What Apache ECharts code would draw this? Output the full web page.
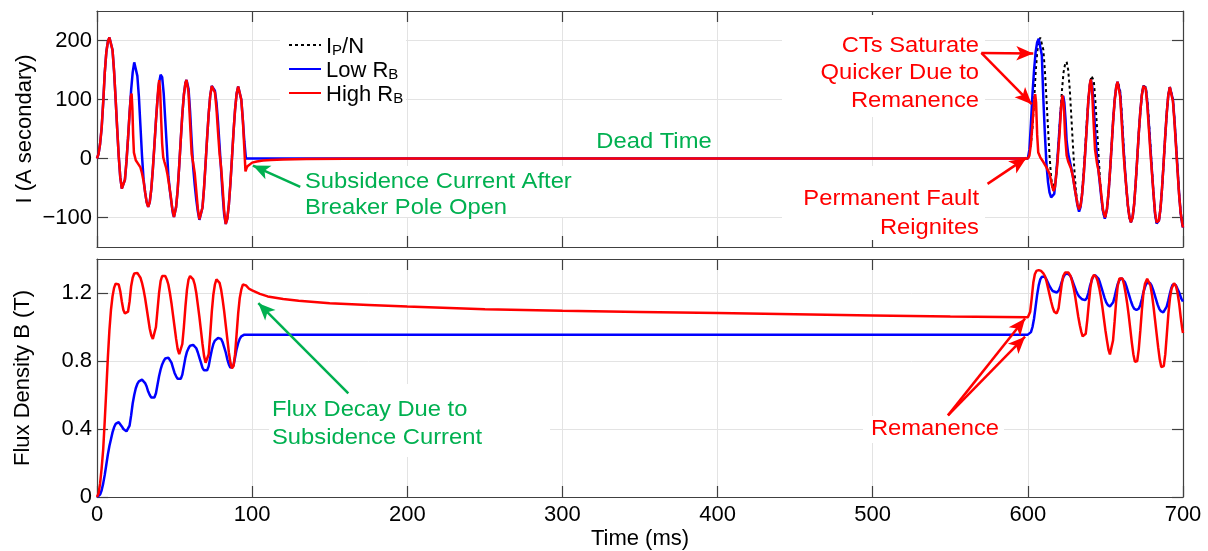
<!DOCTYPE html>
<html><head><meta charset="utf-8">
<script src="https://cdn.jsdelivr.net/npm/echarts@6/dist/echarts.min.js"></script>
<style>html,body{margin:0;padding:0;background:#fff}#c{width:1208px;height:551px}</style>
</head><body><div id="c"></div>
<script>
// ---------- DATA (time ms, value) ----------
const xTicks = [0,100,200,300,400,500,600,700];
const currentTicks = [-100,0,100,200];
const fluxTicks = [0,0.4,0.8,1.2];
const seriesNames = ['IP/N','Low RB','High RB'];

// Secondary current, high burden (red)
const iHighFirst = [[0,0],[1,8],[2,25],[3,52],[4,95],[5,145],[6,180],[7,198],[8,205],[8.5,206],[9,204],[10,184],[11,148],[12,101],[13,51],[14,4],[15,-32],[16,-51],[16.5,-54],[17,-53],[18,-36],[19,-5],[20,34],[21,77],[21.8,105],[22.3,110],[22.8,85],[23.3,40],[23.8,10],[25,-3],[26,-7],[27,-10],[28,-15],[29,-25],[30,-38],[31,-57],[32,-74],[33,-82],[34,-74],[35,-52],[36,-18],[37,22],[38,64],[39,101],[39.5,120],[40.1,133],[40.7,115],[41.3,70],[42,25],[42.7,2],[43.5,-6],[44.5,-15],[45.5,-28],[46.5,-45],[47.5,-63],[48.5,-85],[49.6,-99],[50,-98],[51,-82],[52,-53],[53,-12],[54,32],[55,75],[56,108],[57,128],[57.7,133],[58,132],[59,112],[60,60],[61,8],[62,-8],[63,-25],[64,-55],[65,-85],[66,-103],[66.3,-106],[67,-102],[68,-83],[69,-50],[70,-8],[71,36],[72,76],[73,107],[74,123],[74.5,125],[75,124],[76,112],[77,85],[78,45],[79,8],[80,-15],[81,-50],[82,-90],[83,-111],[84,-102],[85,-78],[86,-42],[87,1],[88,45],[89,83],[90,110],[91,122],[91.2,122],[92,119],[93,100],[94,65],[95,15],[95.7,-22],[96.3,-17],[97,-13],[98,-10],[100,-7],[103,-5],[107,-3.5],[112,-2.5],[120,-1.5],[135,-1],[160,-0.5],[200,-0.2],[300,0],[400,0],[500,0],[600,0]];
const iHighSecond = [[601,5],[602,25],[603,60],[604,95],[604.7,109],[605.3,95],[606,40],[606.7,10],[608,2],[610,-6],[612,-15],[614,-26],[615.5,-45],[616.5,-55],[617.5,-48],[619,-10],[620.5,45],[621.5,90],[622.3,107],[623.2,90],[624,40],[625,5],[626,-5],[627.7,-16],[629,-30],[630.5,-55],[632,-78],[633,-86],[634,-80],[635,-60],[636,-28],[637,12],[638,55],[639,100],[640,127],[640.6,134],[641.3,120],[642.2,70],[643.3,15],[644.5,-7],[645.5,-20],[646.5,-40],[647.5,-65],[648.5,-88],[649.8,-100],[651,-85],[652,-58],[653,-20],[654,22],[655,65],[656,100],[657,122],[657.8,130],[658.5,128],[659.5,105],[660.5,62],[661.5,15],[662.5,-20],[663.5,-50],[664.5,-80],[665.5,-100],[666.4,-108],[667.5,-100],[668.5,-78],[669.5,-42],[670.5,0],[671.5,43],[672.5,80],[673.5,108],[674.5,123],[675,125],[676,118],[677,90],[678,50],[679,10],[680,-25],[681,-60],[682,-92],[683,-108],[683.6,-111],[684.5,-105],[685.5,-85],[686.5,-50],[687.5,-8],[688.5,36],[689.5,76],[690.5,107],[691.5,121],[691.8,122],[692.5,118],[693.5,97],[694.5,62],[695.5,20],[696.5,-22],[697.5,-62],[698.5,-92],[699.5,-110],[700,-117]];

// Secondary current, low burden (blue)
const iLowFirst = [[0,0],[1,8],[2,25],[3,52],[4,95],[5,145],[6,180],[7,198],[8,205],[8.5,206],[9,204],[10,184],[11,148],[12,101],[13,51],[14,4],[15,-32],[16,-51],[16.5,-54],[17,-53],[18,-36],[19,-5],[20,34],[21,77],[22,116],[23,146],[24,163],[24.5,165],[25,162],[26,140],[27,105],[28,55],[29,5],[30,-35],[31,-57],[32,-74],[33,-82],[34,-74],[35,-52],[36,-18],[37,22],[38,64],[39,101],[40,128],[41,142],[41.4,143],[42,138],[43,110],[44,65],[45,20],[46,-30],[47,-55],[48,-75],[49,-94],[49.6,-99],[50,-98],[51,-82],[52,-53],[53,-12],[54,32],[55,75],[56,108],[57,128],[57.7,133],[58,133],[59,118],[60,80],[61,30],[62,-15],[63,-45],[64,-70],[65,-90],[66,-104],[66.3,-106],[67,-102],[68,-83],[69,-50],[70,-8],[71,36],[72,76],[73,107],[74,123],[74.5,125],[75,124],[76,115],[77,95],[78,62],[79,22],[80,-20],[81,-62],[82,-96],[83,-111],[84,-102],[85,-78],[86,-42],[87,1],[88,45],[89,83],[90,110],[91,122],[91.2,122],[92,119],[93,100],[94,66],[95,28],[96,0],[600,0]];
const iLowSecond = [[601,15],[602,60],[603,110],[604,150],[605,180],[606,197],[607,203],[608,203],[609,175],[610,100],[611,40],[612,-10],[613,-40],[614,-58],[615,-66],[615.9,-69],[617,-60],[618,-35],[619,-3],[620,35],[621,75],[622,100],[622.8,106],[623.5,95],[624.3,65],[625,30],[626,8],[627.5,-10],[629,-30],[630.5,-55],[632,-80],[633,-90],[634,-82],[635,-60],[636,-28],[637,12],[638,55],[639,98],[640,125],[640.6,133],[641.5,122],[642.5,85],[643.5,40],[644.5,5],[645.5,-20],[646.5,-45],[647.5,-70],[648.5,-90],[649.6,-102],[651,-86],[652,-58],[653,-20],[654,22],[655,65],[656,100],[657,122],[657.8,130],[658.5,129],[659.5,110],[660.5,70],[661.5,25],[662.5,-15],[663.5,-50],[664.5,-80],[665.5,-100],[666.4,-108],[667.5,-100],[668.5,-78],[669.5,-42],[670.5,0],[671.5,43],[672.5,80],[673.5,108],[674.5,123],[675,125],[676,119],[677,95],[678,58],[679,18],[680,-22],[681,-60],[682,-94],[683,-110],[683.6,-113],[684.5,-105],[685.5,-85],[686.5,-50],[687.5,-8],[688.5,36],[689.5,76],[690.5,107],[691.5,121],[691.8,122],[692.5,119],[693.5,100],[694.5,66],[695.5,24],[696.5,-18],[697.5,-60],[698.5,-92],[699.5,-111],[700,-117]];

// Ideal current IP/N (black dotted), visible in the reclose
const iIdeal = [[600,0],[601,8],[602,25],[603,52],[604,95],[605,145],[606,180],[607,198],[608,205],[608.5,206],[609,204],[610,184],[611,148],[612,101],[613,51],[614,4],[615,-32],[616,-51],[616.5,-54],[617,-53],[618,-36],[619,-5],[620,34],[621,77],[622,116],[623,146],[624,160],[625,164],[626,150],[627,118],[628,72],[629,25],[630,-20],[631,-55],[632,-76],[633,-85],[634,-78],[635,-55],[636,-20],[637,20],[638,62],[639,100],[640,126],[641,140],[641.7,143],[642.5,132],[643.5,98],[644.5,55],[645.5,10],[646.5,-35],[647.5,-70],[648.5,-92],[649.8,-101],[651,-86],[652,-58],[653,-20],[654,22],[655,65],[656,100],[657,122],[658,130],[658.5,131],[659.5,115],[660.5,78],[661.5,32],[662.5,-15],[663.5,-52],[664.5,-82],[665.5,-101],[666.4,-108],[667.5,-100],[668.5,-78],[669.5,-42],[670.5,0],[671.5,43],[672.5,80],[673.5,108],[674.5,123],[675,125],[676,121],[677,100],[678,65],[679,22],[680,-20],[681,-60],[682,-94],[683,-110],[683.6,-113],[684.5,-105],[685.5,-85],[686.5,-50],[687.5,-8],[688.5,36],[689.5,76],[690.5,107],[691.5,121],[691.8,122],[692.5,119],[693.5,100],[694.5,66],[695.5,24],[696.5,-18],[697.5,-60],[698.5,-92],[699.5,-111],[700,-117]];

// Flux density, high burden (red)
const bHighFirst = [[0,0],[1,0.02],[2,0.08],[3,0.17],[4,0.28],[5,0.45],[6,0.63],[7,0.82],[8,0.98],[9,1.10],[10,1.18],[11,1.23],[12,1.255],[13,1.26],[14,1.25],[15,1.21],[16,1.15],[17,1.10],[18,1.08],[19,1.075],[20,1.09],[21,1.15],[22,1.24],[23,1.29],[24,1.315],[25,1.32],[26,1.318],[27,1.31],[28,1.29],[29,1.26],[30,1.22],[31,1.17],[32,1.11],[33,1.05],[34,0.99],[35,0.95],[36,0.93],[37,0.94],[38,1.00],[39,1.10],[40,1.20],[41,1.27],[42,1.30],[43,1.31],[44,1.30],[45,1.28],[46,1.25],[47,1.20],[48,1.14],[49,1.07],[50,1.00],[51,0.93],[52,0.87],[53,0.84],[54,0.845],[55,0.90],[56,1.00],[57,1.12],[58,1.22],[59,1.28],[60,1.30],[61,1.30],[62,1.28],[63,1.25],[64,1.20],[65,1.13],[66,1.06],[67,0.98],[68,0.90],[69,0.83],[70,0.79],[71,0.79],[72,0.84],[73,0.96],[74,1.09],[75,1.19],[76,1.25],[77,1.28],[78,1.28],[79,1.26],[80,1.22],[81,1.16],[82,1.09],[83,1.01],[84,0.93],[85,0.85],[86,0.79],[87,0.757],[88,0.77],[89,0.84],[90,0.96],[91,1.08],[92,1.17],[93,1.22],[94,1.25],[95,1.26],[96,1.245],[97,1.235],[98,1.225],[100,1.215],[105,1.195],[110,1.18],[120,1.165],[130,1.155],[150,1.14],[175,1.13],[200,1.12],[250,1.105],[300,1.095],[350,1.088],[400,1.082],[450,1.075],[500,1.068],[550,1.062],[600,1.057]];
const bHighSecond = [[600.6,1.06],[601.5,1.09],[602.5,1.17],[603.5,1.26],[604.5,1.31],[605.5,1.33],[607,1.335],[608.5,1.33],[610,1.316],[611,1.30],[612,1.27],[613,1.23],[614,1.19],[615,1.15],[616,1.115],[617,1.09],[618.6,1.08],[619.8,1.11],[620.8,1.18],[621.8,1.25],[622.8,1.30],[624,1.32],[625,1.325],[626.2,1.32],[627.5,1.30],[628.5,1.27],[629.5,1.23],[630.5,1.18],[631.5,1.12],[632.5,1.06],[633.5,1.01],[634.5,0.97],[635.3,0.945],[636.3,0.937],[637.3,0.96],[638.3,1.04],[639.3,1.14],[640.3,1.23],[641.3,1.285],[642.6,1.306],[644,1.295],[645,1.27],[646,1.23],[647,1.18],[648,1.12],[649,1.05],[650,0.98],[651,0.92],[652,0.865],[652.9,0.839],[653.9,0.85],[654.9,0.92],[655.9,1.03],[656.9,1.15],[657.9,1.24],[659,1.285],[660,1.295],[661,1.285],[662,1.25],[663,1.20],[664,1.14],[665,1.07],[666,0.99],[667,0.91],[668,0.84],[669,0.795],[669.6,0.786],[670.5,0.80],[671.5,0.87],[672.5,0.98],[673.5,1.10],[674.5,1.20],[675.5,1.255],[676.9,1.283],[678,1.275],[679,1.245],[680,1.19],[681,1.12],[682,1.04],[683,0.96],[684,0.88],[685,0.81],[686,0.765],[686.7,0.756],[687.6,0.77],[688.6,0.84],[689.6,0.96],[690.6,1.08],[691.6,1.17],[692.6,1.225],[694.2,1.257],[695.5,1.24],[696.5,1.20],[697.5,1.14],[698.5,1.06],[699.5,0.99],[700,0.965]];

// Flux density, low burden (blue)
const bLowFirst = [[0,0],[1,0.003],[2,0.015],[3,0.04],[4,0.08],[5,0.13],[6,0.19],[7,0.25],[8,0.30],[9,0.34],[10,0.38],[11,0.41],[12,0.43],[13,0.44],[14,0.44],[15,0.43],[16,0.415],[17,0.40],[18,0.39],[19,0.386],[20,0.39],[21,0.42],[22,0.48],[23,0.55],[24,0.60],[25,0.64],[26,0.665],[27,0.68],[28,0.69],[29,0.69],[30,0.685],[31,0.67],[32,0.65],[33,0.62],[34,0.60],[35,0.585],[36,0.58],[37,0.585],[38,0.61],[39,0.66],[40,0.71],[41,0.75],[42,0.78],[43,0.80],[44,0.815],[45,0.82],[46,0.82],[47,0.81],[48,0.79],[49,0.76],[50,0.73],[51,0.71],[52,0.695],[53,0.69],[54,0.695],[55,0.72],[56,0.77],[57,0.82],[58,0.855],[59,0.875],[60,0.89],[61,0.895],[62,0.895],[63,0.89],[64,0.875],[65,0.85],[66,0.82],[67,0.79],[68,0.76],[69,0.745],[70,0.74],[71,0.745],[72,0.77],[73,0.82],[74,0.865],[75,0.90],[76,0.92],[77,0.93],[78,0.935],[79,0.935],[80,0.93],[81,0.91],[82,0.88],[83,0.85],[84,0.81],[85,0.78],[86,0.76],[87,0.757],[88,0.775],[89,0.82],[90,0.87],[91,0.905],[92,0.93],[93,0.945],[94,0.952],[95,0.955],[600,0.955]];
const bLowSecond = [[601,0.958],[602,0.97],[603,1.00],[604,1.05],[605,1.12],[606,1.19],[607,1.245],[608,1.28],[609,1.295],[610,1.30],[611,1.295],[612,1.28],[613,1.26],[614,1.24],[615,1.225],[616,1.212],[617,1.205],[618.6,1.203],[620,1.215],[621,1.24],[622,1.27],[623,1.295],[624,1.31],[625.5,1.315],[627,1.305],[628,1.29],[629,1.265],[630,1.24],[631,1.215],[632,1.195],[633,1.18],[634,1.17],[635,1.163],[636.9,1.158],[638,1.17],[639,1.20],[640,1.24],[641,1.27],[642,1.295],[643.3,1.305],[644.5,1.30],[645.5,1.285],[646.5,1.26],[647.5,1.23],[648.5,1.20],[649.5,1.17],[650.5,1.145],[651.5,1.13],[652.9,1.12],[654,1.125],[655,1.145],[656,1.18],[657,1.22],[658,1.255],[659,1.275],[660.4,1.287],[661.5,1.28],[662.5,1.265],[663.5,1.24],[664.5,1.21],[665.5,1.18],[666.5,1.15],[667.5,1.125],[668.5,1.108],[670,1.10],[671.5,1.108],[672.5,1.13],[673.5,1.165],[674.5,1.205],[675.5,1.235],[676.5,1.258],[677.6,1.267],[678.7,1.26],[679.7,1.245],[680.7,1.22],[681.7,1.19],[682.7,1.16],[683.7,1.13],[684.7,1.107],[685.7,1.093],[687.3,1.086],[688.5,1.095],[689.5,1.12],[690.5,1.155],[691.5,1.195],[692.5,1.23],[693.3,1.248],[694.2,1.253],[695.2,1.248],[696.2,1.23],[697.2,1.21],[698.2,1.185],[699,1.165],[700,1.15]];

// ---------- CHART ----------
const FONT = '"Liberation Sans", Arial, sans-serif';
const FS = 22;
const RED = '#FF0000', BLUE = '#0000FF', GREEN = '#00B050';
const BOX = '#404040';
const chart = echarts.init(document.getElementById('c'), null, {renderer: 'canvas'});

function xAx(grid, pos, labels) {
  return {type:'value', gridIndex:grid, position:pos, min:0, max:700, interval:100,
    axisLine:{show:true, onZero:false, lineStyle:{color:BOX, width:1.2}},
    axisTick:{show:true, inside:true, length:11, lineStyle:{color:BOX, width:1.2}},
    axisLabel:{show:labels, color:'#000', fontFamily:FONT, fontSize:FS, margin:7},
    splitLine:{show:pos==='bottom', lineStyle:{color:'#e3e3e3', width:1}},
    name: labels ? 'Time (ms)' : '', nameLocation:'middle', nameGap:31, nameMoveOverlap:false,
    nameTextStyle:{color:'#000', fontFamily:FONT, fontSize:FS}};
}
function yAx(grid, pos, min, max, ticks, name, fmt, gap) {
  const left = pos === 'left';
  return {type:'value', gridIndex:grid, position:pos, min:min, max:max,
    axisLine:{show:true, onZero:false, lineStyle:{color:BOX, width:1.2}},
    axisTick:{show:true, inside:true, length:11, customValues:ticks, lineStyle:{color:BOX, width:1.2}},
    axisLabel:{show:left, customValues:ticks, color:'#000', fontFamily:FONT, fontSize:FS, margin:5, formatter:fmt},
    splitLine:{show:left, lineStyle:{color:'#e3e3e3', width:1}},
    name: left ? name : '', nameLocation:'middle', nameGap:gap, nameMoveOverlap:false,
    nameTextStyle:{color:'#000', fontFamily:FONT, fontSize:FS}};
}
const curFmt = v => v < 0 ? '\u2212' + Math.abs(v) : String(v);
const fluxFmt = v => String(v);

const arrowSym = ['none','arrow'];
function arrow(a, b, color) {
  return [{coord:a, lineStyle:{color:color, width:2.5, type:'solid'}, symbol:'none'},
          {coord:b, symbol:'arrow', symbolSize:[11,17]}];
}
function box(x, y, w, h) {
  return {type:'rect', z:1, silent:true, shape:{x:x, y:y, width:w, height:h}, style:{fill:'#fff'}};
}
function label(text, x, y, color, align, lh) {
  return {type:'text', x:x, y:y, z:10, silent:true, scaleX:1.08, scaleY:1,
    style:{text:text, fill:color, font:FS+'px '+FONT, align:align, verticalAlign:'middle', lineHeight:lh}};
}

const option = {
  backgroundColor:'#fff',
  animation:false,
  grid:[
    {left:97, top:11, width:1086, height:236, containLabel:false},
    {left:97, top:259, width:1086, height:238, containLabel:false}
  ],
  xAxis:[xAx(0,'bottom',false), xAx(0,'top',false), xAx(1,'bottom',true), xAx(1,'top',false)],
  yAxis:[
    yAx(0,'left',-150,250,currentTicks,'I (A secondary)',curFmt,61),
    yAx(0,'right',-150,250,currentTicks,'',curFmt,61),
    yAx(1,'left',0,1.4,fluxTicks,'Flux Density B (T)',fluxFmt,63),
    yAx(1,'right',0,1.4,fluxTicks,'',fluxFmt,63)
  ],
  legend:{
    show:true, orient:'vertical', left:283, top:31, itemWidth:32, itemHeight:12, itemGap:2,
    data: seriesNames,
    itemStyle:{opacity:0},
    formatter: n => ({'IP/N':'{n|I}{s|P}{n|/N}','Low RB':'{n|Low R}{s|B}','High RB':'{n|High R}{s|B}'})[n],
    textStyle:{color:'#000', fontFamily:FONT, fontSize:FS,
      rich:{n:{fontFamily:FONT, fontSize:FS, lineHeight:26, verticalAlign:'bottom', color:'#000'},
            s:{fontFamily:FONT, fontSize:15, lineHeight:10, verticalAlign:'bottom', color:'#000'}}},
    selectedMode:false
  },
  series:[
    {name:'IP/N', type:'line', xAxisIndex:0, yAxisIndex:0, data:iIdeal, showSymbol:false, symbol:'none',
      lineStyle:{color:'#000', width:2, type:[3,3]}, itemStyle:{color:'#000'}, z:2},
    {name:'Low RB', type:'line', xAxisIndex:0, yAxisIndex:0, data:iLowFirst.concat(iLowSecond), showSymbol:false, symbol:'none',
      lineStyle:{color:BLUE, width:2.5}, itemStyle:{color:BLUE}, z:3},
    {name:'High RB', type:'line', xAxisIndex:0, yAxisIndex:0, data:iHighFirst.concat(iHighSecond), showSymbol:false, symbol:'none',
      lineStyle:{color:RED, width:2.5}, itemStyle:{color:RED}, z:4,
      markLine:{silent:true, animation:false, label:{show:false}, symbol:arrowSym, emphasis:{disabled:true},
        data:[
          arrow([131,-48],[100.5,-12],GREEN),
          arrow([570,179],[603.5,178],RED),
          arrow([570,179],[602.5,92],RED),
          arrow([574,-43],[599,1],RED)
        ]}},
    {name:'Low RB', type:'line', xAxisIndex:2, yAxisIndex:2, data:bLowFirst.concat(bLowSecond), showSymbol:false, symbol:'none',
      lineStyle:{color:BLUE, width:2.5}, itemStyle:{color:BLUE}, z:3},
    {name:'High RB', type:'line', xAxisIndex:2, yAxisIndex:2, data:bHighFirst.concat(bHighSecond), showSymbol:false, symbol:'none',
      lineStyle:{color:RED, width:2.5}, itemStyle:{color:RED}, z:4,
      markLine:{silent:true, animation:false, label:{show:false}, symbol:arrowSym, emphasis:{disabled:true},
        data:[
          arrow([162,0.61],[104,1.14],GREEN),
          arrow([548.5,0.48],[598.2,1.05],RED),
          arrow([548.5,0.48],[598.2,0.943],RED)
        ]}}
  ],
  graphic:[
    box(280,30,126,82),
    box(782,15,203,102),
    box(782,166,203,74),
    box(301,166,275,51),
    box(269,384,281,73),
    box(863,416,141,27),
    label('Dead Time', 654, 142, GREEN, 'center', 25),
    label('Subsidence Current After\nBreaker Pole Open', 305, 195, GREEN, 'left', 26.5),
    label('CTs Saturate\nQuicker Due to\nRemanence', 979, 73, RED, 'right', 27.5),
    label('Permanent Fault\nReignites', 979, 213.5, RED, 'right', 28.5),
    label('Flux Decay Due to\nSubsidence Current', 272, 424, GREEN, 'left', 28),
    label('Remanence', 935, 429, RED, 'center', 25)
  ]
};
chart.setOption(option);
</script>
</body></html>
